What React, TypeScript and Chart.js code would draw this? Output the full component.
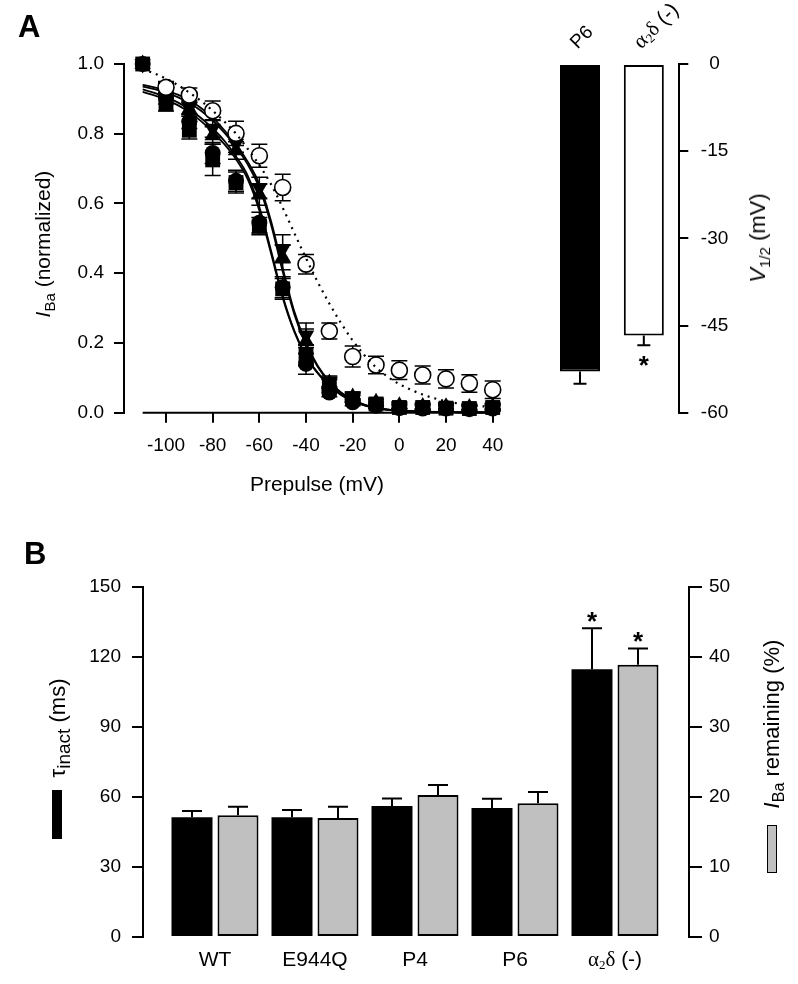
import React, { useEffect, useRef } from 'react';
import { Chart, registerables } from 'chart.js';

Chart.register(...registerables);

const SANS = "'Liberation Sans', Arial, Helvetica, sans-serif";
const SERIF = "'Liberation Serif', 'Times New Roman', serif";

// ---------- Panel A: steady-state inactivation ----------
const prepulseMV = [-110, -100, -90, -80, -70, -60, -50, -40, -30, -20, -10, 0, 10, 20, 30, 40];
const xTicksA = [-100, -80, -60, -40, -20, 0, 20, 40];
const yTicksA = [0, 0.2, 0.4, 0.6, 0.8, 1.0];
const xAxisLineFrom = -110;
const xAxisLineTo = 40;

const wtMean = [1.0, 0.9, 0.835, 0.745, 0.665, 0.545, 0.36, 0.14, 0.058, 0.03, 0.02, 0.013, 0.012, 0.012, 0.01, 0.012];
const wtSem = [0, 0.015, 0.02, 0.03, 0.03, 0.03, 0.03, 0.03, 0.012, 0.01, 0.008, 0.008, 0.008, 0.008, 0.008, 0.008];
const e944qMean = [1.0, 0.885, 0.81, 0.725, 0.66, 0.535, 0.355, 0.165, 0.08, 0.04, 0.025, 0.015, 0.015, 0.013, 0.012, 0.015];
const e944qSem = [0, 0.02, 0.025, 0.045, 0.03, 0.025, 0.03, 0.03, 0.015, 0.01, 0.008, 0.008, 0.008, 0.008, 0.008, 0.008];
const p4Mean = [1.0, 0.925, 0.87, 0.795, 0.752, 0.625, 0.445, 0.205, 0.085, 0.045, 0.03, 0.02, 0.018, 0.017, 0.015, 0.018];
const p4Sem = [0, 0.02, 0.02, 0.025, 0.025, 0.03, 0.035, 0.035, 0.015, 0.01, 0.008, 0.008, 0.008, 0.008, 0.008, 0.008];
const p6Mean = [1.0, 0.93, 0.875, 0.815, 0.772, 0.645, 0.47, 0.222, 0.09, 0.048, 0.03, 0.02, 0.018, 0.017, 0.015, 0.018];
const p6Sem = [0, 0.02, 0.02, 0.025, 0.025, 0.03, 0.04, 0.035, 0.015, 0.01, 0.008, 0.008, 0.008, 0.008, 0.008, 0.008];
// the open-circle symbol at -110 mV is hidden under the filled ones in the figure
const a2dMean = [null, 0.933, 0.911, 0.866, 0.801, 0.737, 0.646, 0.426, 0.234, 0.161, 0.137, 0.122, 0.108, 0.097, 0.084, 0.066];
const a2dSem = [0, 0.015, 0.02, 0.028, 0.035, 0.033, 0.038, 0.028, 0.023, 0.03, 0.025, 0.027, 0.026, 0.026, 0.025, 0.025];

// Boltzmann fit curves
const fitMV = [-110, -105, -100, -95, -90, -85, -80, -75, -70, -65, -60, -55, -50, -45, -40, -35, -30, -25, -20, -15, -10, -5, 0, 10, 20, 30, 40];
const fitWT = [0.927, 0.917, 0.905, 0.89, 0.87, 0.845, 0.815, 0.78, 0.735, 0.68, 0.59, 0.465, 0.335, 0.235, 0.163, 0.115, 0.078, 0.052, 0.034, 0.022, 0.014, 0.009, 0.006, 0.003, 0.002, 0.001, 0.001];
const fitE944Q = [0.92, 0.91, 0.898, 0.882, 0.862, 0.836, 0.805, 0.77, 0.727, 0.67, 0.58, 0.457, 0.33, 0.232, 0.161, 0.113, 0.077, 0.051, 0.033, 0.021, 0.013, 0.008, 0.005, 0.003, 0.002, 0.001, 0.001];
const fitP4 = [0.94, 0.933, 0.924, 0.912, 0.896, 0.874, 0.846, 0.81, 0.77, 0.72, 0.655, 0.55, 0.415, 0.29, 0.2, 0.135, 0.09, 0.058, 0.037, 0.023, 0.014, 0.009, 0.006, 0.003, 0.002, 0.001, 0.001];
const fitP6 = [0.935, 0.928, 0.918, 0.905, 0.888, 0.866, 0.838, 0.803, 0.762, 0.712, 0.645, 0.54, 0.405, 0.282, 0.195, 0.132, 0.088, 0.057, 0.036, 0.022, 0.014, 0.009, 0.006, 0.003, 0.002, 0.001, 0.001];
const fitA2d = [0.985, 0.973, 0.958, 0.94, 0.918, 0.894, 0.866, 0.835, 0.8, 0.757, 0.71, 0.655, 0.588, 0.515, 0.443, 0.375, 0.313, 0.257, 0.207, 0.165, 0.13, 0.103, 0.082, 0.052, 0.033, 0.022, 0.016];

// ---------- Panel A inset: V1/2 ----------
const insetCategories = ['P6', 'α2δ (-)'];
const insetV12 = [-52.9, -46.7];
const insetSem = [2.1, 1.7];
const insetSignificant = [false, true];
const insetColors = ['#000000', '#ffffff'];
const insetTicks = [0, -15, -30, -45, -60];

// ---------- Panel B ----------
const bCategories = ['WT', 'E944Q', 'P4', 'P6', 'α2δ (-)'];
const tauInact = [51.3, 51.3, 56.1, 55.3, 114.7];
const tauSem = [2.7, 3.1, 3.3, 4.0, 17.6];
const ibaRemaining = [17.4, 17.0, 20.3, 19.1, 38.9];
const ibaSem = [1.2, 1.6, 1.4, 1.6, 2.3];
const bSignificant = [false, false, false, false, true];
const tauTicks = [0, 30, 60, 90, 120, 150];
const ibaTicks = [0, 10, 20, 30, 40, 50];

Chart.defaults.font.family = SANS;
Chart.defaults.color = '#000';

function richSegments(label: string, size: number) {
  if (label.startsWith('α2δ')) {
    return [
      { t: 'α', font: `${size}px ${SERIF}`, dy: 0 },
      { t: '2', font: `${Math.round(size * 0.62)}px ${SERIF}`, dy: size * 0.12 },
      { t: 'δ', font: `${size}px ${SERIF}`, dy: 0 },
      { t: label.slice(3), font: `${size}px ${SANS}`, dy: 0 },
    ];
  }
  return [{ t: label, font: `${size}px ${SANS}`, dy: 0 }];
}

function drawRich(ctx: CanvasRenderingContext2D, label: string, x: number, y: number, size: number, align: 'left' | 'center') {
  const segs = richSegments(label, size);
  let w = 0;
  segs.forEach((s) => { ctx.font = s.font; w += ctx.measureText(s.t).width; });
  let cx = align === 'center' ? x - w / 2 : x;
  ctx.textAlign = 'left';
  ctx.textBaseline = 'alphabetic';
  ctx.fillStyle = '#000';
  segs.forEach((s) => {
    ctx.font = s.font;
    ctx.fillText(s.t, cx, y + s.dy);
    cx += ctx.measureText(s.t).width;
  });
}

function makeErrorBarPlugin(id: string, mode: 'both' | 'up' | 'down', cap: number, lw: number, phase: 'before' | 'after') {
  const draw = (chart: any) => {
    const ctx = chart.ctx as CanvasRenderingContext2D;
    chart.data.datasets.forEach((ds: any, i: number) => {
      if (!ds.sem) return;
      const meta = chart.getDatasetMeta(i);
      const ys = chart.scales[meta.yAxisID];
      ctx.save();
      ctx.strokeStyle = '#000';
      ctx.lineWidth = lw;
      meta.data.forEach((el: any, j: number) => {
        const e = ds.sem[j];
        if (!e) return;
        const raw = ds.data[j];
        const v = typeof raw === 'number' ? raw : raw.y;
        if (v === null || v === undefined) return;
        const x = el.x;
        const y0 = ys.getPixelForValue(v);
        const ends: number[] = [];
        if (mode !== 'down') ends.push(ys.getPixelForValue(v + e));
        if (mode !== 'up') ends.push(ys.getPixelForValue(v - e));
        ends.forEach((ye) => {
          ctx.beginPath();
          ctx.moveTo(x, y0);
          ctx.lineTo(x, ye);
          ctx.moveTo(x - cap / 2, ye);
          ctx.lineTo(x + cap / 2, ye);
          ctx.stroke();
        });
      });
      ctx.restore();
    });
  };
  return phase === 'before' ? { id, beforeDatasetsDraw: draw } : { id, afterDatasetsDraw: draw };
}

function makeStarPlugin(id: string, dir: 'up' | 'down', gap: number) {
  return {
    id,
    afterDatasetsDraw(chart: any) {
      const ctx = chart.ctx as CanvasRenderingContext2D;
      chart.data.datasets.forEach((ds: any, i: number) => {
        if (!ds.stars) return;
        const meta = chart.getDatasetMeta(i);
        const ys = chart.scales[meta.yAxisID];
        meta.data.forEach((el: any, j: number) => {
          if (!ds.stars[j]) return;
          const raw = ds.data[j];
          const v = typeof raw === 'number' ? raw : raw.y;
          const e = ds.sem ? ds.sem[j] : 0;
          const yEnd = ys.getPixelForValue(dir === 'up' ? v + e : v - e);
          const cy = dir === 'up' ? yEnd - gap : yEnd + gap;
          const size = 26;
          ctx.save();
          ctx.font = `bold ${size}px ${SANS}`;
          ctx.fillStyle = '#000';
          ctx.textAlign = 'center';
          ctx.textBaseline = 'alphabetic';
          ctx.fillText('*', el.x, cy + size * 0.57);
          ctx.restore();
        });
      });
    },
  };
}

const xAxisLinePlugin = {
  id: 'xAxisLine',
  afterDraw(chart: any) {
    const ctx = chart.ctx as CanvasRenderingContext2D;
    const xs = chart.scales.x;
    const y = chart.chartArea.bottom;
    ctx.save();
    ctx.strokeStyle = '#000';
    ctx.lineWidth = 2;
    ctx.beginPath();
    ctx.moveTo(xs.getPixelForValue(xAxisLineFrom), y);
    ctx.lineTo(xs.getPixelForValue(xAxisLineTo), y);
    ctx.stroke();
    ctx.restore();
  },
};

const insetLabelPlugin = {
  id: 'insetLabels',
  afterDraw(chart: any) {
    const ctx = chart.ctx as CanvasRenderingContext2D;
    const xs = chart.scales.x;
    insetCategories.forEach((lab, i) => {
      const x = xs.getPixelForValue(i);
      ctx.save();
      ctx.translate(x - 2.5, 49.5);
      ctx.rotate(-Math.PI / 4);
      drawRich(ctx, lab, 0, 0, i === 0 ? 19 : 21, 'left');
      ctx.restore();
    });
  },
};

const bLabelPlugin = {
  id: 'bLabels',
  afterDraw(chart: any) {
    const ctx = chart.ctx as CanvasRenderingContext2D;
    const xs = chart.scales.x;
    const y = chart.chartArea.bottom + 29;
    bCategories.forEach((lab, i) => {
      ctx.save();
      drawRich(ctx, lab, xs.getPixelForValue(i), y, 21, 'center');
      ctx.restore();
    });
  },
};

const pts = (xs: number[], ys: (number | null)[]) => xs.map((x, i) => ({ x, y: ys[i] }));

function fitDataset(label: string, ys: number[], dotted: boolean) {
  return {
    label,
    data: pts(fitMV, ys),
    showLine: true,
    borderColor: '#000',
    backgroundColor: '#000',
    borderWidth: dotted ? 2.2 : 1.8,
    borderDash: dotted ? [2, 5] : [],
    pointRadius: 0,
    cubicInterpolationMode: 'monotone',
    clip: false,
  };
}

function markerDataset(label: string, ys: (number | null)[], sem: number[], style: string, radius: number, rotation: number, open: boolean) {
  return {
    label,
    data: pts(prepulseMV, ys),
    sem,
    showLine: false,
    pointStyle: style,
    pointRadius: radius,
    pointRotation: rotation,
    pointBackgroundColor: open ? '#fff' : '#000',
    pointBorderColor: '#000',
    pointBorderWidth: open ? 1.6 : 0,
    backgroundColor: open ? '#fff' : '#000',
    borderColor: '#000',
    clip: false,
  };
}

const tickFont = { size: 19, family: SANS };

export default function App() {
  const refA = useRef<HTMLCanvasElement>(null);
  const refInset = useRef<HTMLCanvasElement>(null);
  const refB = useRef<HTMLCanvasElement>(null);

  useEffect(() => {
    document.body.style.margin = '0';
    document.body.style.overflow = 'hidden';
    const charts: Chart[] = [];

    // Panel A main
    const cfgA: any = {
      type: 'scatter',
      data: {
        datasets: [
          fitDataset('α2δ(-) fit', fitA2d, true),
          markerDataset('α2δ(-)', a2dMean, a2dSem, 'circle', 8, 0, true),
          fitDataset('WT fit', fitWT, false),
          fitDataset('E944Q fit', fitE944Q, false),
          fitDataset('P4 fit', fitP4, false),
          fitDataset('P6 fit', fitP6, false),
          markerDataset('P6', p6Mean, p6Sem, 'triangle', 9.5, 180, false),
          markerDataset('P4', p4Mean, p4Sem, 'triangle', 9.5, 0, false),
          markerDataset('E944Q', e944qMean, e944qSem, 'rect', 10.5, 0, false),
          markerDataset('WT', wtMean, wtSem, 'circle', 8, 0, false),
        ],
      },
      options: {
        responsive: false,
        animation: false,
        events: [],
        layout: { padding: { top: 64, right: 52.3, left: 0, bottom: 0 } },
        plugins: { legend: { display: false }, tooltip: { enabled: false } },
        scales: {
          x: {
            type: 'linear',
            min: -118,
            max: 40,
            offset: false,
            afterBuildTicks: (s: any) => { s.ticks = xTicksA.map((v) => ({ value: v })); },
            afterFit: (s: any) => { s.height = 87.3; },
            border: { display: false },
            grid: { drawOnChartArea: false, color: '#000', lineWidth: 2, tickLength: 10, tickWidth: 2 },
            ticks: { font: tickFont, color: '#000', padding: 12, autoSkip: false, maxRotation: 0, callback: (v: any) => String(v) },
          },
          y: {
            type: 'linear',
            min: 0,
            max: 1,
            afterBuildTicks: (s: any) => { s.ticks = yTicksA.map((v) => ({ value: v })); },
            afterFit: (s: any) => { s.width = 124; },
            border: { display: true, color: '#000', width: 2 },
            grid: { drawOnChartArea: false, color: '#000', lineWidth: 2, tickLength: 10, tickWidth: 2 },
            ticks: { font: tickFont, color: '#000', padding: 10, callback: (v: any) => Number(v).toFixed(1) },
          },
        },
      },
      plugins: [makeErrorBarPlugin('errA', 'both', 16, 1.5, 'before'), xAxisLinePlugin],
    };
    charts.push(new Chart(refA.current as HTMLCanvasElement, cfgA));

    // Panel A inset
    const cfgInset: any = {
      type: 'bar',
      data: {
        datasets: [
          {
            label: 'V1/2',
            data: insetCategories.map((_, i) => ({ x: i, y: insetV12[i] })),
            sem: insetSem,
            stars: insetSignificant,
            backgroundColor: insetColors,
            borderColor: '#000',
            borderWidth: 2,
            borderSkipped: false,
            barPercentage: 0.627,
            categoryPercentage: 1,
          },
        ],
      },
      options: {
        responsive: false,
        animation: false,
        events: [],
        layout: { padding: { top: 64, left: 1, right: 0, bottom: 87.3 } },
        plugins: { legend: { display: false }, tooltip: { enabled: false } },
        scales: {
          x: {
            type: 'linear',
            display: false,
            offset: false,
            min: -0.533,
            max: 1.556,
            afterBuildTicks: (s: any) => { s.ticks = insetCategories.map((_, i) => ({ value: i })); },
          },
          y: {
            type: 'linear',
            position: 'right',
            min: -60,
            max: 0,
            afterBuildTicks: (s: any) => { s.ticks = insetTicks.map((v) => ({ value: v })); },
            afterFit: (s: any) => { s.width = 118.7; },
            border: { display: true, color: '#000', width: 2 },
            grid: { drawOnChartArea: false, color: '#000', lineWidth: 2, tickLength: 9, tickWidth: 2 },
            ticks: { font: tickFont, color: '#000', padding: 12.5, crossAlign: 'center', callback: (v: any) => String(v) },
          },
        },
      },
      plugins: [makeErrorBarPlugin('errInset', 'down', 13, 2, 'after'), makeStarPlugin('starInset', 'down', 14), insetLabelPlugin],
    };
    charts.push(new Chart(refInset.current as HTMLCanvasElement, cfgInset));

    // Panel B
    const cfgB: any = {
      type: 'bar',
      data: {
        datasets: [
          {
            label: 'τinact (ms)',
            data: bCategories.map((_, i) => ({ x: i, y: tauInact[i] })),
            sem: tauSem,
            stars: bSignificant,
            yAxisID: 'y',
            backgroundColor: '#000',
            borderColor: '#000',
            borderWidth: 0,
            barPercentage: 0.891,
            categoryPercentage: 0.92,
          },
          {
            label: 'IBa remaining (%)',
            data: bCategories.map((_, i) => ({ x: i, y: ibaRemaining[i] })),
            sem: ibaSem,
            stars: bSignificant,
            yAxisID: 'y2',
            backgroundColor: '#c0c0c0',
            borderColor: '#000',
            borderWidth: 2,
            borderSkipped: false,
            barPercentage: 0.891,
            categoryPercentage: 0.92,
          },
        ],
      },
      options: {
        responsive: false,
        animation: false,
        events: [],
        layout: { padding: { top: 47, left: 0, right: 0, bottom: 47 } },
        plugins: { legend: { display: false }, tooltip: { enabled: false } },
        scales: {
          x: {
            type: 'linear',
            display: false,
            offset: false,
            min: -0.72,
            max: 4.74,
            afterBuildTicks: (s: any) => { s.ticks = bCategories.map((_, i) => ({ value: i })); },
          },
          y: {
            type: 'linear',
            position: 'left',
            min: 0,
            max: 150,
            afterBuildTicks: (s: any) => { s.ticks = tauTicks.map((v) => ({ value: v })); },
            afterFit: (s: any) => { s.width = 143; },
            border: { display: true, color: '#000', width: 2 },
            grid: { drawOnChartArea: false, color: '#000', lineWidth: 2, tickLength: 11, tickWidth: 2 },
            ticks: { font: tickFont, color: '#000', padding: 11, callback: (v: any) => String(v) },
          },
          y2: {
            type: 'linear',
            position: 'right',
            min: 0,
            max: 50,
            afterBuildTicks: (s: any) => { s.ticks = ibaTicks.map((v) => ({ value: v })); },
            afterFit: (s: any) => { s.width = 109; },
            border: { display: true, color: '#000', width: 2 },
            grid: { drawOnChartArea: false, color: '#000', lineWidth: 2, tickLength: 13, tickWidth: 2 },
            ticks: { font: tickFont, color: '#000', padding: 7, callback: (v: any) => String(v) },
          },
        },
      },
      plugins: [makeErrorBarPlugin('errB', 'up', 20, 2, 'after'), makeStarPlugin('starB', 'up', 13), bLabelPlugin],
    };
    charts.push(new Chart(refB.current as HTMLCanvasElement, cfgB));

    return () => charts.forEach((c) => c.destroy());
  }, []);

  const rot = (cx: number, cy: number, size: number, deg: number): React.CSSProperties => ({
    position: 'absolute',
    left: cx,
    top: cy,
    transform: `translate(-50%, -50%) rotate(${deg}deg)`,
    whiteSpace: 'nowrap',
    fontSize: size,
    lineHeight: 1,
    fontFamily: SANS,
    color: '#000',
  });
  const sub = (size: number, drop: number): React.CSSProperties => ({ fontSize: size, position: 'relative', top: drop });

  return (
    <div style={{ position: 'absolute', left: 0, top: 0, width: 798, height: 984, background: '#fff', overflow: 'hidden', fontFamily: SANS, color: '#000' }}>
      <canvas ref={refA} width={545} height={500} style={{ position: 'absolute', left: 0, top: 0 }} />
      <canvas ref={refInset} width={253} height={500} style={{ position: 'absolute', left: 545, top: 0 }} />
      <canvas ref={refB} width={798} height={444} style={{ position: 'absolute', left: 0, top: 540 }} />

      <div style={{ position: 'absolute', left: 18, top: 37 - 0.8465 * 31, fontSize: 31, lineHeight: 1, fontWeight: 'bold' }}>A</div>
      <div style={{ position: 'absolute', left: 24, top: 564 - 0.8465 * 31, fontSize: 31, lineHeight: 1, fontWeight: 'bold' }}>B</div>

      <div style={rot(42, 244, 21, -90)}>
        <i>I</i><span style={sub(15, 5)}>Ba</span> (normalized)
      </div>
      <div style={rot(317, 483, 21, 0)}>Prepulse (mV)</div>
      <div style={rot(758, 238, 22, -90)}>
        <i>V</i><span style={sub(15, 5)}>1/2</span> (mV)
      </div>
      <div style={rot(58, 728, 22, -90)}>
        τ<span style={sub(19, 5)}>inact</span> (ms)
      </div>
      <div style={rot(772, 724, 22, -90)}>
        <i>I</i><span style={sub(16, 5)}>Ba</span> remaining (%)
      </div>

      <div style={{ position: 'absolute', left: 52, top: 790, width: 10, height: 49, background: '#000' }} />
      <div style={{ position: 'absolute', left: 767, top: 825, width: 10, height: 48, background: '#c0c0c0', border: '1.5px solid #000', boxSizing: 'border-box' }} />
    </div>
  );
}
